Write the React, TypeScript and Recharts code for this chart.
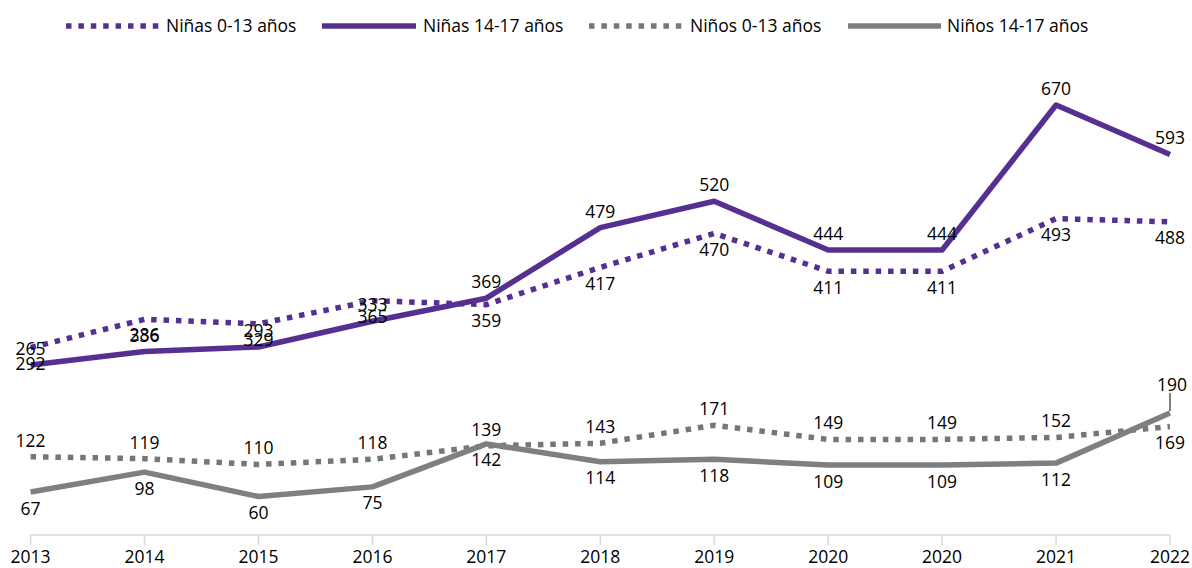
import { LineChart, Line, XAxis, YAxis, LabelList } from 'recharts';

const years = ['2013', '2014', '2015', '2016', '2017', '2018', '2019', '2020', '2020', '2021', '2022'];
const ninas013 = [292, 336, 329, 365, 359, 417, 470, 411, 411, 493, 488];
const ninas1417 = [265, 286, 293, 333, 369, 479, 520, 444, 444, 670, 593];
const ninos013 = [122, 119, 110, 118, 139, 143, 171, 149, 149, 152, 169];
const ninos1417 = [67, 98, 60, 75, 142, 114, 118, 109, 109, 112, 190];

const rows = years.map((year, i) => ({
    i,
    year,
    ninas013: ninas013[i],
    ninas1417: ninas1417[i],
    ninos013: ninos013[i],
    ninos1417: ninos1417[i],
}));

const PURPLE = '#563091';
const GRAY = '#7f7f7f';
const GRAY_DOT = '#767676';
const FONT = '"Open Sans", sans-serif';
const FS = 17.5;
const DOTS = '5.5 6.9';
const SW = 5.5;

// label placement: 'above' | 'below' | 'leader' (above with a small line)
const makeLabel = (place: string, special?: Record<number, string>) => (props: any) => {
    const { x, y, value, index } = props;
    const p = (special && special[index]) || place;
    if (p === 'leader') {
        return (
            <g>
                <line x1={x} x2={x} y1={y - 20} y2={y - 2} stroke="#000" strokeWidth={1} />
                <text x={x + 2} y={y - 22} textAnchor="middle" fontFamily={FONT} fontSize={FS} fill="#000">
                    {value}
                </text>
            </g>
        );
    }
    const ty = p === 'above' ? y - 10 : y + 22.5;
    return (
        <text x={x} y={ty} textAnchor="middle" fontFamily={FONT} fontSize={FS} fill="#000">
            {value}
        </text>
    );
};

const legendItems = [
    { name: 'Niñas 0-13 años', color: PURPLE, dotted: true, x1: 66, x2: 159, tx: 166 },
    { name: 'Niñas 14-17 años', color: PURPLE, dotted: false, x1: 322, x2: 416, tx: 423 },
    { name: 'Niños 0-13 años', color: GRAY_DOT, dotted: true, x1: 589, x2: 683, tx: 690 },
    { name: 'Niños 14-17 años', color: GRAY, dotted: false, x1: 848, x2: 941, tx: 947 },
];

function ChartLegend() {
    return (
        <svg width={1192} height={50} style={{ position: 'absolute', left: 0, top: 0 }}>
            {legendItems.map((it) => (
                <g key={it.name}>
                    <line
                        x1={it.x1}
                        x2={it.x2}
                        y1={26}
                        y2={26}
                        stroke={it.color}
                        strokeWidth={SW}
                        strokeDasharray={it.dotted ? DOTS : undefined}
                    />
                    <text x={it.tx} y={32} fontFamily={FONT} fontSize={FS} fill="#000">
                        {it.name}
                    </text>
                </g>
            ))}
        </svg>
    );
}

export default function App() {
    return (
        <div style={{ position: 'absolute', left: 0, top: 0, width: 1192, height: 568, background: '#fff' }}>
            <LineChart width={1192} height={568} data={rows} margin={{ top: 21.6, right: 22, bottom: 0, left: 30.6 }}>
                <XAxis
                    dataKey="i"
                    type="category"
                    height={33}
                    tickFormatter={(v) => years[v]}
                    axisLine={{ stroke: '#d9d9d9', strokeWidth: 1.5 }}
                    tickLine={{ stroke: '#d9d9d9', strokeWidth: 1.5 }}
                    tickSize={10}
                    tickMargin={6}
                    interval={0}
                    tick={{ fontFamily: FONT, fontSize: FS, fill: '#000' }}
                />
                <YAxis hide domain={[0, 800]} />
                <Line
                    dataKey="ninas013"
                    stroke={PURPLE}
                    strokeWidth={SW}
                    strokeDasharray={DOTS}
                    dot={false}
                    isAnimationActive={false}
                >
                    <LabelList dataKey="ninas013" content={makeLabel('below')} />
                </Line>
                <Line
                    dataKey="ninas1417"
                    stroke={PURPLE}
                    strokeWidth={SW}
                    strokeLinejoin="round"
                    dot={false}
                    isAnimationActive={false}
                >
                    <LabelList dataKey="ninas1417" content={makeLabel('above')} />
                </Line>
                <Line
                    dataKey="ninos013"
                    stroke={GRAY_DOT}
                    strokeWidth={SW}
                    strokeDasharray={DOTS}
                    dot={false}
                    isAnimationActive={false}
                >
                    <LabelList dataKey="ninos013" content={makeLabel('above', { 10: 'below' })} />
                </Line>
                <Line
                    dataKey="ninos1417"
                    stroke={GRAY}
                    strokeWidth={SW}
                    strokeLinejoin="round"
                    dot={false}
                    isAnimationActive={false}
                >
                    <LabelList dataKey="ninos1417" content={makeLabel('below', { 10: 'leader' })} />
                </Line>
            </LineChart>
            <ChartLegend />
        </div>
    );
}
